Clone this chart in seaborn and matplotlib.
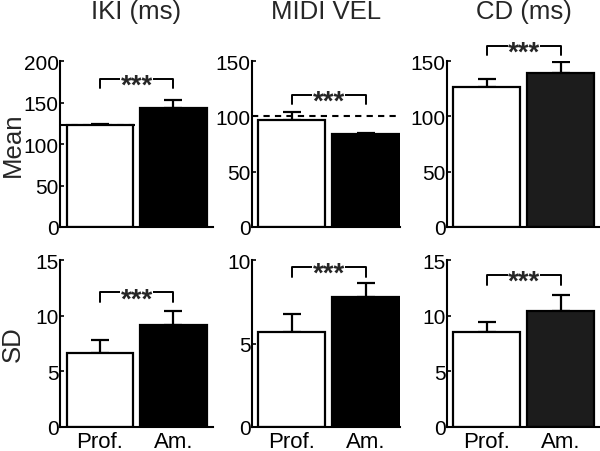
import numpy as np
import pandas as pd
import matplotlib
matplotlib.use("Agg")
import matplotlib.pyplot as plt
import seaborn as sns

groups = ['Prof.', 'Am.']
titles = ['IKI (ms)', 'MIDI VEL', 'CD (ms)']
row_labels = ['Mean', 'SD']

mean_vals = [[123, 143], [96.6, 84.2], [127, 139]]
mean_err = [[1.5, 10.5], [7.0, 1.2], [6.4, 10.0]]
sd_vals = [[6.7, 9.2], [5.7, 7.8], [8.5, 10.4]]
sd_err = [[1.1, 1.25], [1.05, 0.85], [0.9, 1.5]]

mean_ref = [123, 100, None]        # dashed reference lines
mean_sig = [179, 119.5, 164]       # height of *** brackets
sd_sig = [12.1, 9.6, 13.65]

mean_ylim = [200, 150, 150]
sd_ylim = [15, 10, 15]
mean_step = [50, 50, 50]
sd_step = [5, 5, 5]

bar_colors = [['white', 'black'], ['white', 'black'], ['white', '#1c1c1c']]

sns.set_style("ticks")
plt.rcParams['font.family'] = ['Liberation Sans', 'DejaVu Sans']

fig = plt.figure(figsize=(6, 4.52), dpi=100)

lefts = [0.100, 0.420, 0.745]
widths = [0.255, 0.247, 0.255]
xlims = [(-0.54, 1.537), (-0.534, 1.466), (-0.534, 1.53)]
bottoms = [0.4956, 0.0531]
heights = [0.367, 0.369]


def draw_panel(ax, vals, errs, colors, ymax, step, sig, ref, xlim, show_x):
    df = pd.DataFrame({'group': groups, 'value': vals})
    sns.barplot(data=df, x='group', y='value', hue='group', palette=colors,
                edgecolor='black', linewidth=1.6, width=0.9, legend=False,
                ax=ax, zorder=2)
    ax.errorbar([0, 1], vals, yerr=[[0, 0], errs], fmt='none', ecolor='black',
                elinewidth=1.6, capsize=6.5, capthick=1.6, zorder=1)
    if ref is not None:
        ax.hlines(ref, xlim[0], 1.45, color='black', lw=1.5,
                  linestyles=(0, (3, 2.5)), zorder=0)
    # significance bracket
    drop = 0.058 * ymax
    ax.plot([0, 0, 1, 1], [sig - drop, sig, sig, sig - drop], color='black',
            lw=1.4, clip_on=False, zorder=3)
    ax.text(0.5, sig - 0.04 * ymax, '***', ha='center', va='center', fontsize=20,
            fontweight='bold', clip_on=False, zorder=4,
            bbox=dict(facecolor='white', edgecolor='none', pad=0.0))
    ax.set_xlim(*xlim)
    ax.set_ylim(0, ymax)
    ax.set_yticks(np.arange(0, ymax + step / 2, step))
    ax.set_xlabel('')
    ax.set_ylabel('')
    sns.despine(ax=ax)
    for s in ['left', 'bottom']:
        ax.spines[s].set_linewidth(1.5)
        ax.spines[s].set_color('black')
    ax.tick_params(axis='y', direction='in', length=3, width=1.2,
                   labelsize=15, pad=1, colors='black')
    ax.tick_params(axis='x', direction='in', length=2, width=1,
                   labelsize=16, pad=3, colors='black')
    if not show_x:
        ax.set_xticklabels([])
    ax.set_facecolor('white')


for r, (vals_row, err_row, sig_row, lims, steps) in enumerate(
        [(mean_vals, mean_err, mean_sig, mean_ylim, mean_step),
         (sd_vals, sd_err, sd_sig, sd_ylim, sd_step)]):
    for c in range(3):
        ax = fig.add_axes([lefts[c], bottoms[r], widths[c], heights[r]])
        ref = mean_ref[c] if r == 0 else None
        draw_panel(ax, vals_row[c], err_row[c], bar_colors[c], lims[c], steps[c],
                   sig_row[c], ref, xlims[c], show_x=(r == 1))
    fig.text(13 / 600, bottoms[r] + heights[r] / 2, row_labels[r], rotation=90,
             ha='center', va='center', fontsize=18.5)

for c in range(3):
    fig.text(lefts[c] + widths[c] / 2, 1 - 12 / 452, titles[c], ha='center',
             va='center', fontsize=18.5)

fig.savefig('out.png', dpi=100, facecolor='white')
